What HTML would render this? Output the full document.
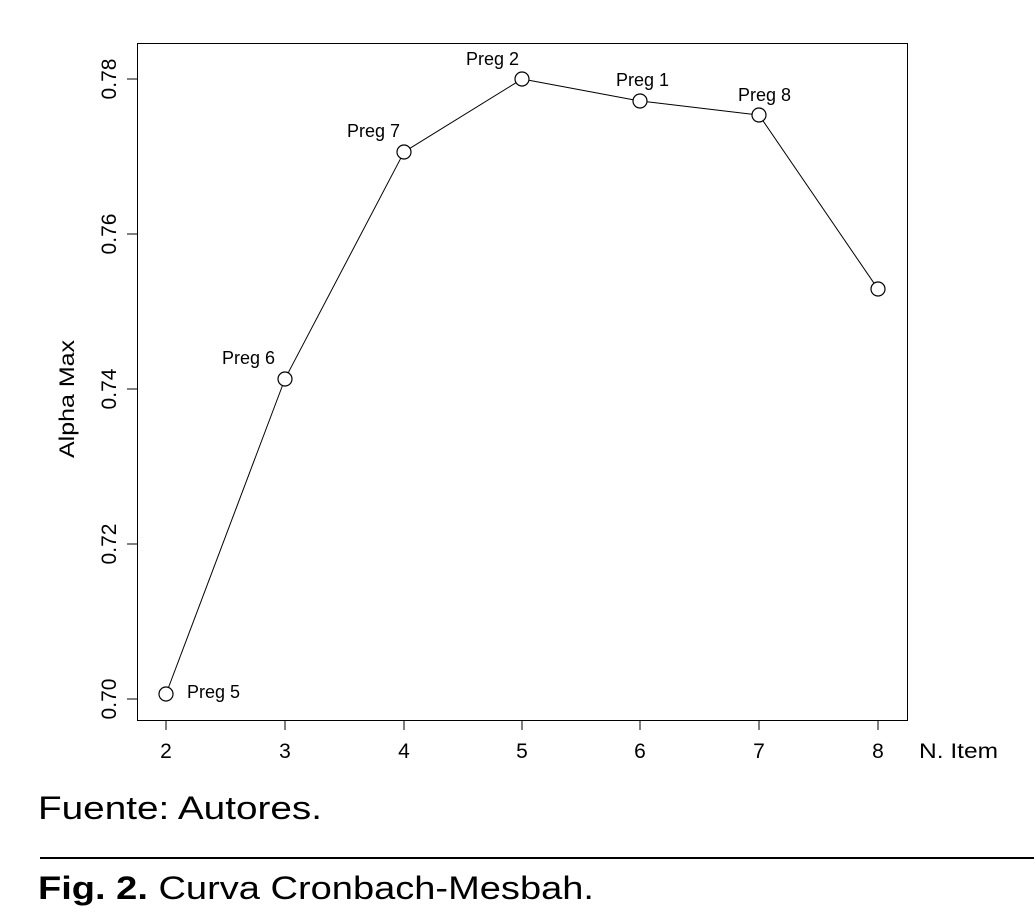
<!DOCTYPE html>
<html><head><meta charset="utf-8"><style>
html,body{margin:0;padding:0;background:#fff}
</style></head><body>
<svg width="1034" height="917" xmlns="http://www.w3.org/2000/svg" font-family="Liberation Sans, sans-serif">
<rect width="1034" height="917" fill="#fff"/>
<rect x="137.5" y="43.5" width="770" height="677" fill="none" stroke="#000" stroke-width="1"/>
<g stroke="#000" stroke-width="1">
<line x1="166" y1="720" x2="166" y2="730"/><line x1="285" y1="720" x2="285" y2="730"/><line x1="404" y1="720" x2="404" y2="730"/><line x1="522" y1="720" x2="522" y2="730"/><line x1="640" y1="720" x2="640" y2="730"/><line x1="759" y1="720" x2="759" y2="730"/><line x1="878" y1="720" x2="878" y2="730"/>
<line x1="127" y1="79" x2="137" y2="79"/><line x1="127" y1="234" x2="137" y2="234"/><line x1="127" y1="389" x2="137" y2="389"/><line x1="127" y1="544" x2="137" y2="544"/><line x1="127" y1="699" x2="137" y2="699"/>
</g>
<g font-size="21" text-anchor="middle">
<text x="166" y="758">2</text><text x="285" y="758">3</text><text x="404" y="758">4</text><text x="522" y="758">5</text><text x="640" y="758">6</text><text x="759" y="758">7</text><text x="878" y="758">8</text>
</g>
<text x="919" y="758" font-size="21" textLength="79" lengthAdjust="spacingAndGlyphs">N. Item</text>
<g font-size="21" text-anchor="middle">
<text transform="translate(116,79) rotate(-90)">0.78</text>
<text transform="translate(116,234) rotate(-90)">0.76</text>
<text transform="translate(116,389) rotate(-90)">0.74</text>
<text transform="translate(116,544) rotate(-90)">0.72</text>
<text transform="translate(116,699) rotate(-90)">0.70</text>
<text transform="translate(74,399) rotate(-90)" textLength="118" lengthAdjust="spacingAndGlyphs">Alpha Max</text>
</g>
<g stroke="#000" stroke-width="1">
<line x1="168.5" y1="687.5" x2="282.5" y2="385.5"/>
<line x1="288.2" y1="372.8" x2="400.8" y2="158.2"/>
<line x1="409.9" y1="148.3" x2="516.1" y2="82.7"/>
<line x1="528.9" y1="80.3" x2="633.1" y2="99.7"/>
<line x1="647" y1="101.8" x2="752" y2="114.2"/>
<line x1="763" y1="120.8" x2="874" y2="283.2"/>
</g>
<g fill="#fff" stroke="#000" stroke-width="1.2">
<circle cx="166" cy="694" r="7"/><circle cx="285" cy="379" r="7"/><circle cx="404" cy="152" r="7"/><circle cx="522" cy="79" r="7"/><circle cx="640" cy="101" r="7"/><circle cx="759" cy="115" r="7"/><circle cx="878" cy="289" r="7"/>
</g>
<g font-size="18">
<text x="187" y="698">Preg 5</text>
<text x="222" y="364">Preg 6</text>
<text x="347" y="137">Preg 7</text>
<text x="466" y="65">Preg 2</text>
<text x="616" y="86">Preg 1</text>
<text x="738" y="101">Preg 8</text>
</g>
<text x="38" y="819" font-size="32" textLength="284" lengthAdjust="spacingAndGlyphs">Fuente: Autores.</text>
<line x1="40" y1="858" x2="1034" y2="858" stroke="#000" stroke-width="2"/>
<text x="38" y="899" font-size="32" textLength="556" lengthAdjust="spacingAndGlyphs"><tspan font-weight="bold">Fig. 2.</tspan> Curva Cronbach-Mesbah.</text>
</svg>
</body></html>
